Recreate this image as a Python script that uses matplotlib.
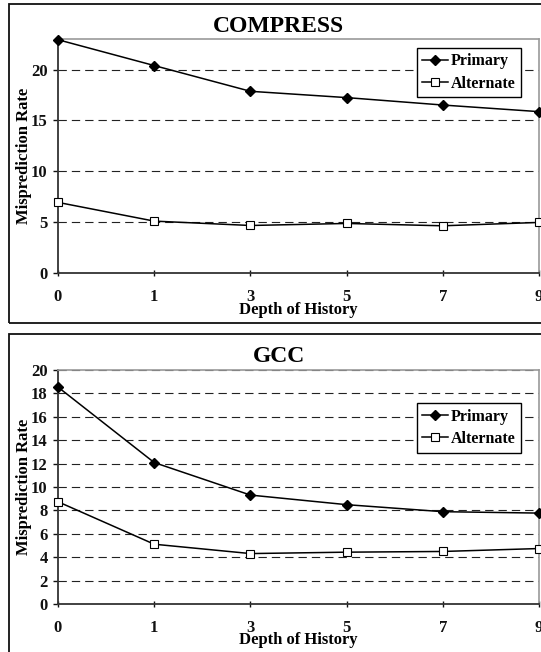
import matplotlib
matplotlib.use('Agg')
import matplotlib.pyplot as plt
from matplotlib.patches import Rectangle

# data
depth_labels = ['0', '1', '3', '5', '7', '9']

compress_primary = [22.93, 20.39, 17.86, 17.24, 16.51, 15.86]
compress_alternate = [6.94, 5.10, 4.67, 4.87, 4.64, 4.97]

gcc_primary = [18.54, 12.09, 9.31, 8.49, 7.89, 7.77]
gcc_alternate = [8.74, 5.11, 4.31, 4.43, 4.49, 4.74]

compress_yticks = [0, 5, 10, 15, 20]
gcc_yticks = list(range(0, 21, 2))

plt.rcParams['font.family'] = ['Liberation Serif', 'DejaVu Serif']
plt.rcParams['font.weight'] = 'bold'
plt.rcParams['lines.scale_dashes'] = False

W, H = 541, 652


def draw_panel(fig, ax_rect, frame_rect, title, title_y, primary, alternate,
               yticks, ymax, legend_anchor):
    # outer box around the panel
    fig.patches.append(Rectangle((frame_rect[0], frame_rect[1]), frame_rect[2], frame_rect[3],
                                 transform=fig.transFigure, fill=False,
                                 edgecolor='#111111', linewidth=1.3, clip_on=False))
    ax = fig.add_axes(ax_rect)
    x = list(range(len(depth_labels)))

    for y in yticks[1:]:
        ax.axhline(y, color='#222222', linewidth=0.8, linestyle=(0, (6, 3.6)), zorder=1)

    ax.plot(x, primary, color='black', linewidth=1.1, marker='D', markersize=5,
            markerfacecolor='black', markeredgecolor='black', label='Primary',
            clip_on=False, zorder=3)
    ax.plot(x, alternate, color='black', linewidth=1.1, marker='s', markersize=5.5,
            markerfacecolor='white', markeredgecolor='black', markeredgewidth=0.8,
            label='Alternate', clip_on=False, zorder=3)

    ax.set_xlim(0, len(depth_labels) - 1)
    ax.set_ylim(0, ymax)
    ax.set_xticks(x)
    ax.set_xticklabels(depth_labels)
    ax.set_yticks(yticks)

    for side in ['left', 'bottom']:
        ax.spines[side].set_color('#333333')
        ax.spines[side].set_linewidth(1.3)
    for side in ['top', 'right']:
        ax.spines[side].set_color('#999999')
        ax.spines[side].set_linewidth(1.2)

    ax.tick_params(axis='y', direction='out', length=3.5, width=1.0, pad=4,
                   labelsize=12, colors='#111111')
    ax.tick_params(axis='x', direction='inout', length=5, width=1.0, pad=9,
                   labelsize=12, colors='#111111')
    for lab in ax.get_xticklabels() + ax.get_yticklabels():
        lab.set_fontweight('bold')

    ax.set_ylabel('Misprediction Rate', fontsize=12, fontweight='bold', labelpad=-1)
    ax.set_xlabel('Depth of History', fontsize=12, fontweight='bold', labelpad=-2.5)

    fig.text(0.5155, title_y, title, ha='center', va='center', fontsize=17,
             fontweight='bold')

    leg = ax.legend(loc='upper right', bbox_to_anchor=legend_anchor, fontsize=11.5,
                    frameon=True, fancybox=False, edgecolor='black', framealpha=1,
                    handlelength=1.6, handletextpad=0.2, borderpad=0.35,
                    labelspacing=0.4, borderaxespad=0)
    leg.get_frame().set_linewidth(1.0)
    for t in leg.get_texts():
        t.set_fontweight('bold')
    leg.set_zorder(5)
    return ax


fig = plt.figure(figsize=(W / 100, H / 100), dpi=100)

left = 58 / W
width = 481 / W
height = 234 / H

draw_panel(fig, [left, 1 - 273 / H, width, height],
           [9 / W, 1 - 323 / H, 1.1, (323 - 4) / H],
           'COMPRESS', 1 - 26 / H, compress_primary, compress_alternate,
           compress_yticks, 23, (0.963, 0.962))

draw_panel(fig, [left, 1 - 604 / H, width, height],
           [9 / W, -0.1, 1.1, 0.1 + 1 - 334 / H],
           'GCC', 1 - 357 / H, gcc_primary, gcc_alternate,
           gcc_yticks, 20, (0.963, 0.859))

fig.savefig('out.png', dpi=100)
